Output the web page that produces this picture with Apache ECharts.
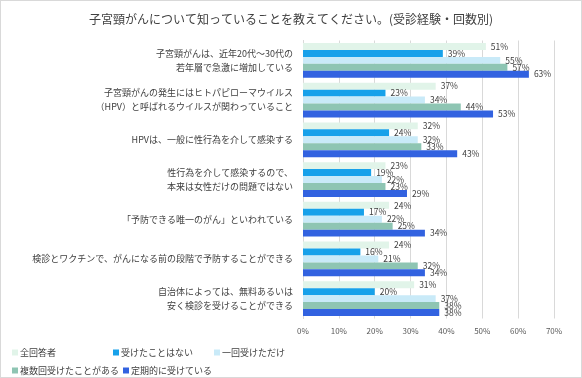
<!DOCTYPE html>
<html><head><meta charset="utf-8">
<script src="https://cdn.jsdelivr.net/npm/echarts@6/dist/echarts.min.js"></script>
<style>html,body{margin:0;padding:0;background:#fff}#c{width:582px;height:378px;box-sizing:border-box;border:1px solid #d9d9d9}</style>
</head><body><div id="c"></div>
<script>
const title = '子宮頸がんについて知っていることを教えてください。(受診経験・回数別)';
const categories = [
  '子宮頸がんは、近年20代～30代の\n若年層で急激に増加している',
  '子宮頸がんの発生にはヒトパピローマウイルス\n（HPV）と呼ばれるウイルスが関わっていること',
  'HPVは、一般に性行為を介して感染する',
  '性行為を介して感染するので、\n本来は女性だけの問題ではない',
  '「予防できる唯一のがん」といわれている',
  '検診とワクチンで、がんになる前の段階で予防することができる',
  '自治体によっては、無料あるいは\n安く検診を受けることができる'
];
const seriesNames = ['全回答者','受けたことはない','一回受けただけ','複数回受けたことがある','定期的に受けている'];
const allRespondents = [51,37,32,23,24,24,31];
const never = [39,23,24,19,17,16,20];
const once = [55,34,32,22,22,21,37];
const multiple = [57,44,33,23,25,32,38];
const regular = [63,53,43,29,34,34,38];
const xTicks = [0,10,20,30,40,50,60,70];
const colors = ['#e1f4e9','#17a1ea','#c9eaf8','#8ec5b3','#3262e0'];
const values = [allRespondents, never, once, multiple, regular];
const font = '"Noto Sans CJK JP", sans-serif';
const chart = echarts.init(document.getElementById('c'));
const legendLefts = [[11,347],[112,347],[213,347],[11,365],[122,365]];
chart.setOption({
  animation:false,
  title:{text:title,left:'center',top:7,textStyle:{fontFamily:font,fontSize:12,fontWeight:'normal',color:'#404040'}},
  legend: seriesNames.map((n,i)=>({data:[n],left:legendLefts[i][0],top:legendLefts[i][1],padding:0,itemWidth:6,itemHeight:6,itemGap:2,icon:'rect',
    textStyle:{fontFamily:font,fontSize:9,color:'#404040',padding:[0,0,0,-3]}})),
  grid:{left:302,right:27,top:39.5,bottom:58.5,containLabel:false},
  xAxis:{type:'value',min:xTicks[0],max:xTicks[xTicks.length-1],interval:10,
    axisLabel:{formatter:'{value}%',fontFamily:font,fontSize:8,color:'#595959',margin:8},
    splitLine:{lineStyle:{color:'#d9d9d9'}},axisLine:{show:false},axisTick:{show:false}},
  yAxis:{type:'category',data:categories,inverse:true,
    axisLine:{lineStyle:{color:'#d9d9d9'}},axisTick:{show:false},
    axisLabel:{fontFamily:font,fontSize:9,color:'#404040',margin:10,lineHeight:14,align:'right'}},
  series: seriesNames.map((n,i)=>({name:n,type:'bar',data:values[i],barGap:'0%',barCategoryGap:'12.5%',
    itemStyle:{color:colors[i]},
    label:{show:true,position:'right',distance:5,formatter:'{c}%',fontFamily:font,fontSize:8.5,color:'#404040'}}))
});
</script></body></html>
